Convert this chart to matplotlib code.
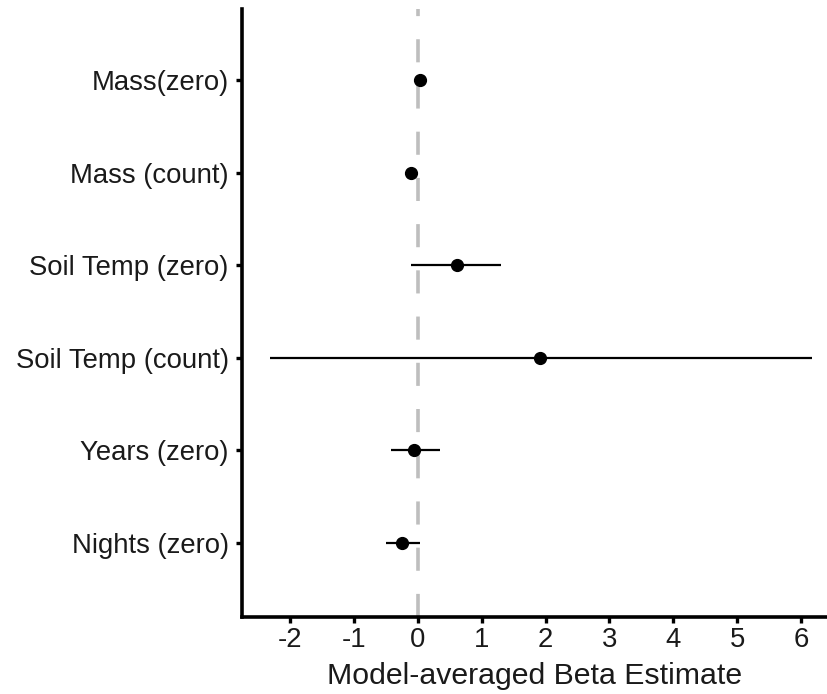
import matplotlib.pyplot as plt

plt.rcParams['font.family'] = ['Liberation Sans', 'DejaVu Sans']

# predictors, top to bottom
labels = ['Mass(zero)', 'Mass (count)', 'Soil Temp (zero)',
          'Soil Temp (count)', 'Years (zero)', 'Nights (zero)']
estimate = [0.03, -0.10, 0.61, 1.91, -0.06, -0.24]
lower = [0.00, -0.13, -0.10, -2.31, -0.42, -0.50]
upper = [0.06, -0.07, 1.31, 6.17, 0.35, 0.03]

ypos = list(range(len(labels) - 1, -1, -1))

fig = plt.figure(figsize=(8.28, 6.94), dpi=100)
ax = fig.add_axes([0.2923, 0.111, 0.7077, 0.876])

ax.axvline(0, color='#bebebe', linewidth=2.6, dashes=(6.4, 6.4), zorder=1)

ax.hlines(ypos, lower, upper, color='black', linewidth=1.6, zorder=2)
ax.plot(estimate, ypos, 'o', color='black', markersize=8.5, zorder=3)

ax.set_xlim(-2.75, 6.42)
ax.set_ylim(-0.8, 5.77)
ax.set_xticks(range(-2, 7))
ax.set_xticklabels([str(v) for v in range(-2, 7)])
ax.set_yticks(ypos)
ax.set_yticklabels(labels)

for side in ['top', 'right']:
    ax.spines[side].set_visible(False)
for side in ['left', 'bottom']:
    ax.spines[side].set_linewidth(2.6)
    ax.spines[side].set_color('black')

ax.tick_params(axis='both', length=4, width=2.4, color='black',
               labelsize=19.8, labelcolor='#1a1a1a')
ax.tick_params(axis='y', pad=5.5)
ax.tick_params(axis='x', pad=3)
ax.set_xlabel('Model-averaged Beta Estimate', fontsize=21.8, color='#1a1a1a',
              labelpad=7)

fig.savefig('out.png', dpi=100)
